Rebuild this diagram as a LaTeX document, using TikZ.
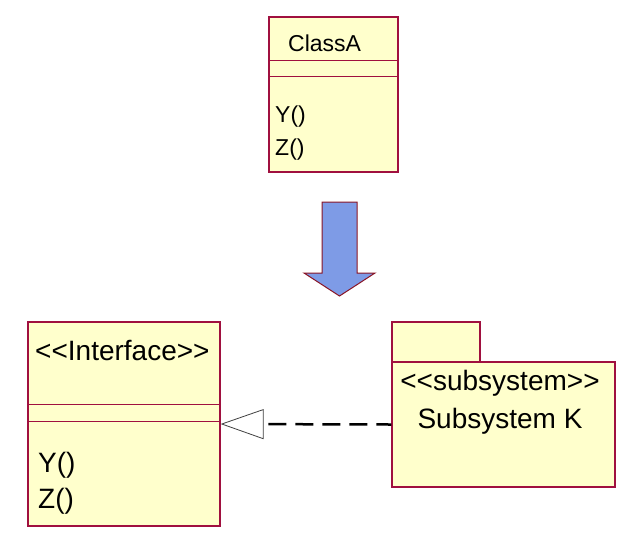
\documentclass[tikz,border=0pt]{standalone}
\usepackage{fontspec}
\setmainfont{Liberation Sans}
\usepackage{xcolor}
\usepackage{tikz}
\usetikzlibrary{arrows.meta,calc,positioning}
\definecolor{umlfill}{HTML}{FFFFCC}
\definecolor{umlline}{HTML}{A0103F}
\definecolor{bigblue}{HTML}{7E9BE6}
\definecolor{bigedge}{HTML}{8A1525}

\begin{document}
\begin{tikzpicture}[x=1pt,y=-1pt,>=Latex,
    umlbox/.style={draw=umlline,fill=umlfill,line width=1.2pt,inner sep=0pt},
    sepline/.style={draw=umlline,line width=1.2pt},
    txt/.style={inner sep=0pt,anchor=base west},
    realize/.style={line width=2.5pt,dash pattern=on 18pt off 9pt,dash phase=22pt,
      {Triangle[length={43pt 0},width={30pt 0},fill=white,line width=0.8pt,color=black!75]}-}]
        \useasboundingbox (0,0) rectangle (639,536);
        % class A
        \node[umlbox,minimum width=129,minimum height=155] (classA) at (333.5,94.5) {};
        \draw[sepline] ($(classA.north west)+(0,44)$) -- ($(classA.north east)+(0,44)$);
        \draw[sepline] ($(classA.north west)+(0,60)$) -- ($(classA.north east)+(0,60)$);
        \node[txt,font=\fontsize{23}{27}\selectfont] (nameA) at (288,51) {ClassA};
        \node[txt,font=\fontsize{23}{27}\selectfont] (opYA) at (275,122) {Y()};
        \node[txt,font=\fontsize{23}{27}\selectfont] (opZA) at (275,155) {Z()};
        % big arrow
        \draw[fill=bigblue,draw=bigedge,line width=1pt,line join=miter]
          (322,202) -- (357,202) -- (357,273) -- (375,273) -- (339.5,296)
          -- (304,273) -- (322,273) -- cycle;
        % interface
        \node[umlbox,minimum width=192,minimum height=204] (iface) at (124,424) {};
        \draw[sepline] ($(iface.north west)+(0,83)$) -- ($(iface.north east)+(0,83)$);
        \draw[sepline] ($(iface.north west)+(0,100)$) -- ($(iface.north east)+(0,100)$);
        \node[txt,font=\fontsize{28}{32}\selectfont] (stereo) at (35,360) {<{}<Interface>{}>};
        \node[txt,font=\fontsize{28}{32}\selectfont] (opY) at (38,472) {Y()};
        \node[txt,font=\fontsize{28}{32}\selectfont] (opZ) at (38,508) {Z()};
        % subsystem package
        \node[umlbox,minimum width=88,minimum height=40] (tab) at (436,342) {};
        \node[umlbox,minimum width=223,minimum height=125] (subsys) at (503.5,424.5) {};
        \node[inner sep=0pt,anchor=base,font=\fontsize{28}{32}\selectfont] (kind) at (500,390) {<{}<subsystem>{}>};
        \node[inner sep=0pt,anchor=base,font=\fontsize{28}{32}\selectfont] (sname) at (500,428) {Subsystem K};
        \draw[realize] (iface.east) -- (subsys.west);
      \end{tikzpicture}
\end{document}
